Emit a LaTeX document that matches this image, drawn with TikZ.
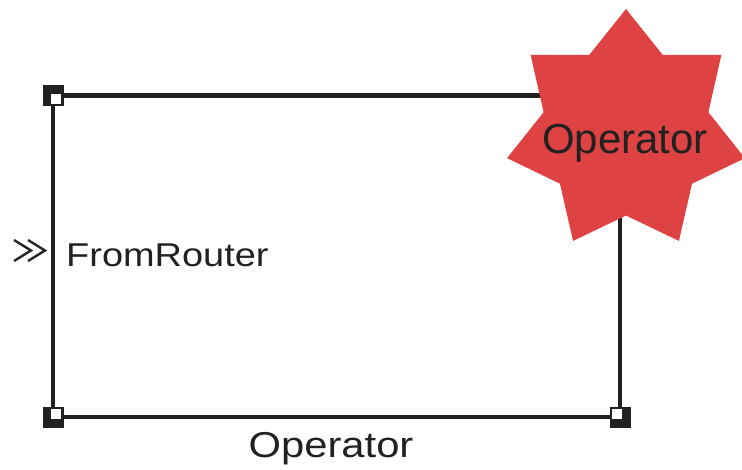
\documentclass[tikz,border=0pt]{standalone}
\usepackage{fontspec}
\setmainfont{Liberation Sans}
\usetikzlibrary{calc}
\begin{document}
\begin{tikzpicture}[x=1pt,y=-1pt,
  blockline/.style={draw=black!87, line width=4.8pt},
  handle/.style={fill=black!87},
  notch/.style={fill=white},
  chev/.style={draw=black!85, line width=2.4pt, line join=miter},
  lbl/.style={inner sep=0pt, anchor=base, text=black!87}]
\useasboundingbox (0,0) rectangle (742,469);
\definecolor{starred}{HTML}{DF4242}

% block corners
\coordinate (tl) at (53,95.5);
\coordinate (tr) at (620,95.5);
\coordinate (br) at (620,417);
\coordinate (bl) at (53,417);

% block outline
\draw[blockline, line cap=rect] (tl) -- (tr) -- (br) -- (bl) -- cycle;

% selection handles at the corners
\foreach \c/\dx/\dy in {tl/1/1, br/-1/-1, bl/1/-1} {
  \fill[handle] ($(\c)+(-10.5,-10.5)$) rectangle ($(\c)+(10.5,10.5)$);
  \fill[notch] ($(\c)+(-2*\dx,-2*\dy)$) rectangle ($(\c)+(8*\dx,8*\dy)$);
}

% input port chevrons
\draw[chev] (14,240) -- (31,250.5) -- (14,261);
\draw[chev] (28,240) -- (45,250.5) -- (28,261);

% port label and block name
\node[lbl, anchor=base west] (portlbl) at (66,266.5)
  {\fontsize{33}{33}\selectfont\scalebox{1.15}[1]{FromRouter}};
\node[lbl] (blockname) at (331,457.5)
  {\fontsize{36}{36}\selectfont\scalebox{1.16}[1]{Operator}};

% seven-pointed star badge
\fill[starred, shift={(626,131)}]
  (-90:122) -- (-64.286:84.5) -- (-38.571:122) -- (-12.857:84.5)
  -- (12.857:122) -- (38.571:84.5) -- (64.286:122) -- (90:84.5)
  -- (115.714:122) -- (141.429:84.5) -- (167.143:122) -- (192.857:84.5)
  -- (218.571:122) -- (244.286:84.5) -- cycle;
\node[lbl] (badge) at (625,153.5)
  {\fontsize{42}{42}\selectfont Operator};
\end{tikzpicture}
\end{document}
